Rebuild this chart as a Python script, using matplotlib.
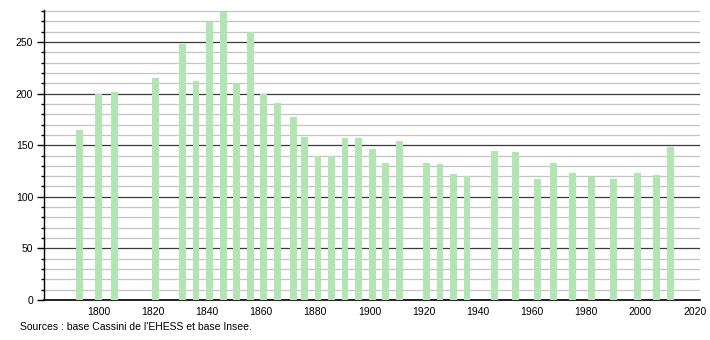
import numpy as np
import matplotlib.pyplot as plt
from matplotlib.ticker import MultipleLocator

plt.rcParams['font.family'] = ['Liberation Sans', 'DejaVu Sans']

# années des recensements et population
annees = [1793, 1800, 1806, 1821, 1831, 1836, 1841, 1846, 1851, 1856,
          1861, 1866, 1872, 1876, 1881, 1886, 1891, 1896, 1901, 1906,
          1911, 1921, 1926, 1931, 1936, 1946, 1954, 1962, 1968, 1975,
          1982, 1990, 1999, 2006, 2011]
population = [165, 200, 202, 215, 248, 212, 269, 279, 210, 260,
              200, 191, 177, 158, 140, 140, 157, 157, 146, 133,
              154, 133, 132, 122, 120, 144, 143, 117, 133, 123,
              119, 117, 123, 121, 148]

source = "Sources : base Cassini de l'EHESS et base Insee."

fig = plt.figure(figsize=(7.1, 3.4), dpi=100)
ax = fig.add_axes([0.0624, 0.1176, 0.9236, 0.853])

ax.bar(annees, population, width=2.5, color='#b3e5b3', zorder=3)

ax.set_xlim(1780, 2022)
ax.set_ylim(0, 281)
ax.set_xticks(np.arange(1800, 2021, 20))
ax.yaxis.set_major_locator(MultipleLocator(50))
ax.yaxis.set_minor_locator(MultipleLocator(10))

# grilles : fines tous les 10, foncees tous les 50
ax.grid(True, axis='y', which='minor', color='#c4c4c4', linewidth=0.9, zorder=1)
ax.grid(True, axis='y', which='major', color='#3a3a3a', linewidth=0.9, zorder=2)

for s in ['top', 'right']:
    ax.spines[s].set_visible(False)
ax.spines['left'].set_linewidth(1)
ax.spines['bottom'].set_linewidth(1.2)

ax.tick_params(axis='y', which='major', length=5, width=1, labelsize=7.5, pad=3, colors='black')
ax.tick_params(axis='y', which='minor', length=2, width=1)
ax.tick_params(axis='x', length=0, labelsize=7.5, pad=5)

fig.text(0.028, 0.025, source, fontsize=7.5, ha='left', va='bottom')

plt.savefig('out.png', dpi=100)
